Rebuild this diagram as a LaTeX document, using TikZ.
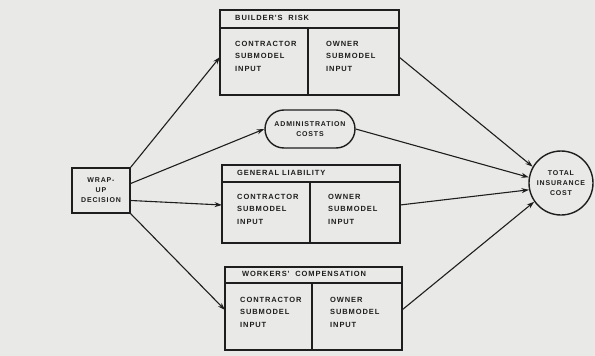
\documentclass[tikz,border=0pt]{standalone}
\usepackage{fontspec}
\setmainfont{Liberation Sans}
\newfontfamily\labfont[LetterSpace=12]{Liberation Sans Bold}
\usetikzlibrary{arrows.meta}
\definecolor{paper}{HTML}{E9E9E7}
\definecolor{ink}{HTML}{1E1E1E}
\begin{document}
\begin{tikzpicture}[x=1pt,y=-1pt,
  ln/.style={draw=ink,line width=1.4pt},
  arr/.style={draw=ink,line width=1.1pt,-{Stealth[length=7.5pt,width=5pt]}},
  txt/.style={font=\labfont\fontsize{7.5}{12.5}\selectfont,text=ink,align=left,anchor=north west,inner sep=0pt},
  ctxt/.style={font=\labfont\fontsize{7}{10}\selectfont,text=ink,align=center,inner sep=0pt}]
\fill[paper] (0,0) rectangle (595,356);
\useasboundingbox (0,0) rectangle (595,356);
% builder's risk
\draw[ln] (220,10) rectangle (399,95);
\draw[ln] (220,28) -- (399,28);
\draw[ln] (308,28) -- (308,95);
\node[txt] (brh) at (235,15) {BUILDER'S\ \ RISK};
\node[txt] (brc) at (235,41) {CONTRACTOR\\SUBMODEL\\INPUT};
\node[txt] (bro) at (326,41) {OWNER\\SUBMODEL\\INPUT};
\coordinate (brL) at (220,57);
\coordinate (brR) at (399,57);
% admin
\node[ln,rounded corners=19pt,minimum width=90pt,minimum height=38pt,ctxt] (adm) at (310,129) {ADMINISTRATION\\COSTS};
% general liability
\draw[ln] (222,165) rectangle (400,243);
\draw[ln] (222,182) -- (400,182);
\draw[ln] (310,182) -- (310,243);
\node[txt] (glh) at (237,170) {GENERAL LIABILITY};
\node[txt] (glc) at (237,194) {CONTRACTOR\\SUBMODEL\\INPUT};
\node[txt] (glo) at (328,194) {OWNER\\SUBMODEL\\INPUT};
\coordinate (glL) at (222,205);
\coordinate (glR) at (400,205);
% workers' compensation
\draw[ln] (225,267) rectangle (402,350);
\draw[ln] (225,283) -- (402,283);
\draw[ln] (312,283) -- (312,350);
\node[txt] (wch) at (242,271) {WORKERS'\ \ COMPENSATION};
\node[txt] (wcc) at (240,297) {CONTRACTOR\\SUBMODEL\\INPUT};
\node[txt] (wco) at (330,297) {OWNER\\SUBMODEL\\INPUT};
\coordinate (wcL) at (225,310);
\coordinate (wcR) at (402,310);
% wrap-up
\node[ln,minimum width=58pt,minimum height=45pt,ctxt] (wrap) at (101,190.5) {WRAP-\\UP\\DECISION};
% total
\node[ln,circle,minimum size=64pt,ctxt] (tot) at (561,183) {TOTAL\\INSURANCE\\COST};
% connectors
\draw[arr] (wrap.north east) -- (brL);
\draw[arr] ([yshift=7pt]wrap.east) -- (adm.west);
\draw[arr] ([yshift=-10pt]wrap.east) -- (glL);
\draw[arr] (wrap.south east) -- (wcL);
\draw[arr] (brR) -- (tot.150);
\draw[arr] (adm.east) -- (tot.170);
\draw[arr] (glR) -- (tot.192);
\draw[arr] (wcR) -- (tot.215);
\end{tikzpicture}
\end{document}
